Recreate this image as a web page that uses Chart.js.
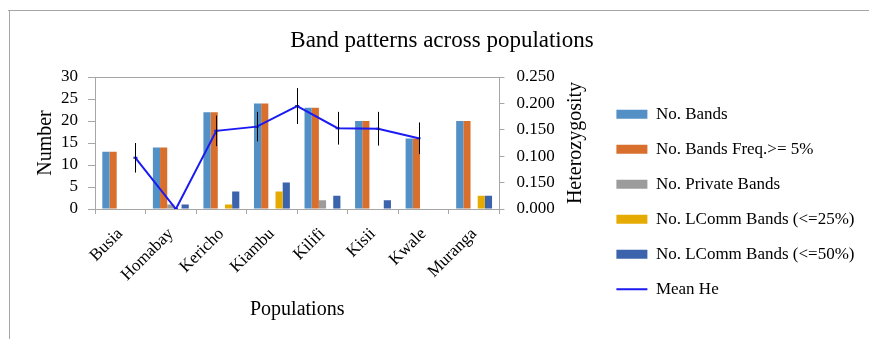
<!DOCTYPE html>
<html><head><meta charset="utf-8">
<script src="https://cdn.jsdelivr.net/npm/chart.js@4"></script>
<style>html,body{margin:0;padding:0;overflow:hidden;background:#fff;width:869px;height:339px}</style>
</head><body>
<canvas id="c" width="875" height="339" style="display:block"></canvas>
<script>
const populations = ['Busia','Homabay','Kericho','Kiambu','Kilifi','Kisii','Kwale','Muranga'];
const noBands      = [13,14,22,24,23,20,16,20];
const noBandsFreq5 = [13,14,22,24,23,20,16,20];
const privateBands = [0,1,0,0,2,0,0,0];
const lcomm25      = [0,0,1,4,0,0,0,3];
const lcomm50      = [0,1,4,6,3,2,0,3];
const meanHe       = [0.097,0,0.148,0.156,0.195,0.153,0.152,0.134];
const meanHeErr    = [0.028,0,0.029,0.028,0.034,0.031,0.032,0.030];
const rightTickLabels = ['0.000','0.150','0.100','0.150','0.200','0.250'];

const SERIF = "'Liberation Serif','Times New Roman',serif";
const AXIS = '#a6a6a6';
const LINE = '#1a1af2';
Chart.defaults.font.family = SERIF;
Chart.defaults.color = '#000';

// The Mean He line sits on its own hidden x scale; keep the bars grouped on the category axis only.
const BarCtl = Chart.registry.getController('bar');
if (BarCtl && BarCtl.prototype._getAxisCount) { BarCtl.prototype._getAxisCount = function(){ return 1; }; }

const frame = {
  id:'frame',
  beforeDraw(chart){
    const ctx = chart.ctx;
    ctx.save();
    ctx.fillStyle='#fff'; ctx.fillRect(0,0,chart.width,chart.height);
    ctx.fillStyle=AXIS;
    ctx.fillRect(8,10,chart.width-8,1);
    ctx.fillRect(9,10,1,chart.height-10);
    ctx.restore();
  },
  afterDraw(chart){
    const ctx = chart.ctx, a = chart.chartArea, y2 = chart.scales.y2;
    ctx.save();
    ctx.fillStyle=AXIS;
    ctx.fillRect(a.left, Math.round(a.top), a.right-a.left, 1);
    ctx.fillStyle='#000';
    ctx.font = '20px ' + SERIF;
    ctx.textAlign='center'; ctx.textBaseline='middle';
    ctx.translate(y2.left+76, (a.top+a.bottom)/2);
    ctx.rotate(-Math.PI/2);
    ctx.fillText('Heterozygosity',0,0);
    ctx.restore();
  }
};
const errorBars = {
  id:'errorBars',
  afterDatasetsDraw(chart){
    const meta = chart.getDatasetMeta(5), y2 = chart.scales.y2, ctx = chart.ctx;
    ctx.save(); ctx.strokeStyle='#000'; ctx.lineWidth=1;
    meta.data.forEach((pt,i)=>{
      const e = meanHeErr[i]; if(!e) return;
      const x = Math.round(pt.x)+0.5;
      ctx.beginPath();
      ctx.moveTo(x, y2.getPixelForValue(meanHe[i]+e));
      ctx.lineTo(x, y2.getPixelForValue(meanHe[i]-e));
      ctx.stroke();
    });
    ctx.restore();
  }
};

const barDs = (label, data, color) => ({type:'bar', label, data, backgroundColor:color, borderWidth:0,
  categoryPercentage:0.71, barPercentage:1.0, order:1, xAxisID:'x', yAxisID:'y'});

new Chart(document.getElementById('c'), {
  type:'bar',
  data:{
    labels: populations,
    datasets:[
      barDs('No. Bands', noBands, '#5390c6'),
      barDs('No. Bands Freq.>= 5%', noBandsFreq5, '#d86f2c'),
      barDs('No. Private Bands', privateBands, '#9c9c9c'),
      barDs('No. LComm Bands (<=25%)', lcomm25, '#e6ab03'),
      barDs('No. LComm Bands (<=50%)', lcomm50, '#3c64ad'),
      {type:'line', label:'Mean He', data: meanHe.map((v,i)=>({x:i+1, y:v})), borderColor:LINE, backgroundColor:LINE,
        borderWidth:2, pointStyle:'line', pointRadius:2, pointBorderWidth:2, tension:0, order:0, xAxisID:'xLine', yAxisID:'y2'}
    ]
  },
  options:{
    responsive:false, animation:false,
    layout:{padding:{left:19.5,right:10.5,top:0,bottom:12}},
    plugins:{
      title:{display:true, text:'Band patterns across populations', color:'#000',
        font:{size:23, weight:'normal', family:SERIF}, padding:{top:27,bottom:22.4}},
      legend:{position:'right', align:'center', maxWidth:320,
        title:{display:true, text:'', font:{size:10}, padding:{top:64.6,bottom:0}},
        labels:{usePointStyle:true, pointStyleWidth:31, boxHeight:9, padding:18, color:'#000',
          font:{size:17, family:SERIF},
          sort:(a,b)=>a.datasetIndex-b.datasetIndex,
          generateLabels(chart){
            const items = Chart.defaults.plugins.legend.labels.generateLabels(chart);
            items.forEach(it=>{
              if(it.datasetIndex===5){it.pointStyle='line'; it.strokeStyle=LINE; it.fillStyle=LINE; it.lineWidth=2;}
              else {it.pointStyle='rect'; it.lineWidth=0;}
            });
            return items;
          }}},
      tooltip:{enabled:false}
    },
    scales:{
      x:{type:'category', offset:true,
        grid:{display:true, drawOnChartArea:false, drawTicks:true, tickLength:5, color:AXIS, offset:true},
        border:{display:true, color:AXIS},
        ticks:{font:{size:17}, color:'#000', maxRotation:45, minRotation:45, autoSkip:false, padding:10},
        title:{display:true, text:'Populations', font:{size:20}, color:'#000', padding:{top:0,bottom:5}},
        afterFit(s){ s.height = 118; }
      },
      xLine:{type:'linear', min:0, max:10, offset:false, grid:{offset:false}, display:false},
      y:{position:'left', min:0, max:30,
        grid:{display:true, drawOnChartArea:false, drawTicks:true, tickLength:7, color:AXIS},
        border:{display:true, color:AXIS},
        ticks:{stepSize:5, autoSkip:false, font:{size:17}, color:'#000', padding:10},
        title:{display:true, text:'Number', font:{size:20}, color:'#000', padding:{top:14,bottom:0}},
        afterFit(s){ s.width = 75.5; }
      },
      y2:{position:'right', min:0, max:0.25,
        grid:{display:true, drawOnChartArea:false, drawTicks:true, tickLength:5, color:AXIS},
        border:{display:true, color:AXIS},
        ticks:{stepSize:0.05, autoSkip:false, font:{size:17}, color:'#000', padding:12,
          callback:(v,i)=>rightTickLabels[i]},
        afterFit(s){ s.width = 99; }
      }
    }
  },
  plugins:[frame, errorBars]
});
</script>
</body></html>
